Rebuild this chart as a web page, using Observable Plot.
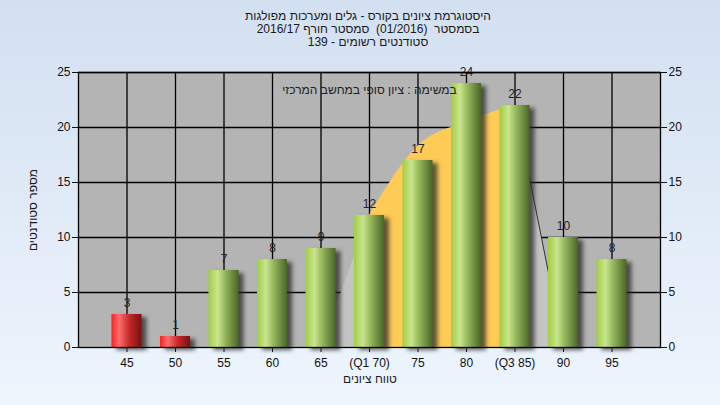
<!DOCTYPE html>
<html><head><meta charset="utf-8">
<script src="https://cdn.jsdelivr.net/npm/d3@7"></script>
<script src="https://cdn.jsdelivr.net/npm/@observablehq/plot@0.6"></script>
<style>
html,body{margin:0;padding:0;}
body{width:720px;height:405px;overflow:hidden;background:linear-gradient(#d3e0f1,#eef5fd);font-family:"Liberation Sans",Arial,sans-serif;}
#wrap{position:relative;width:720px;height:405px;}
#title{position:absolute;left:0;width:736px;top:10px;text-align:center;direction:rtl;font-size:12px;line-height:13px;color:#1a1a1a;}
#xlab{position:absolute;left:0;width:740px;top:372px;text-align:center;direction:rtl;font-size:12px;color:#1a1a1a;}
#ylab{position:absolute;left:33px;top:210px;transform:translate(-50%,-50%) rotate(-90deg);direction:rtl;font-size:12px;color:#1a1a1a;white-space:nowrap;}
.shadow{filter:blur(2px);}
svg{position:absolute;left:0;top:0;}
</style></head>
<body><div id="wrap">
<div id="title">היסטוגרמת ציונים בקורס - גלים ומערכות מפולגות<br>בסמסטר&nbsp; (01/2016)&nbsp; סמסטר חורף 2016/17<br>סטודנטים רשומים - 139</div>
<div id="xlab">טווח ציונים</div>
<div id="ylab">מספר סטודנטים</div>
</div>
<script>
const grades = [45, 50, 55, 60, 65, 70, 75, 80, 85, 90, 95];
const tickLabels = ["45", "50", "55", "60", "65", "(Q1 70)", "75", "80", "(Q3 85)", "90", "95"];
const counts = [3, 1, 7, 8, 9, 12, 17, 24, 22, 10, 8];
const failLimit = 55;
const curveGrades = [65, 70, 85, 90];
const curveValues = [0, 12, 22, 0];
const iqrGrades = [70, 75, 80, 85];
const iqrValues = [12, 18.3, 20.5, 22];
const edgeGrades = [85, 90];
const edgeValues = [22, 0];
const note = "במשימה : ציון סופי במחשב המרכזי";

const bars = grades.map((g, i) => ({g, c: counts[i]}));
const curve = curveGrades.map((g, i) => ({g, v: curveValues[i]}));
const iqr = iqrGrades.map((g, i) => ({g, v: iqrValues[i]}));
const edge = edgeGrades.map((g, i) => ({g, v: edgeValues[i]}));
const half = 1.55;

const chart = Plot.plot({
  width: 720, height: 405,
  marginLeft: 78, marginRight: 60, marginTop: 72, marginBottom: 58,
  style: {background: "transparent", fontFamily: "Liberation Sans, Arial, sans-serif", fontSize: "12px", color: "#111", overflow: "visible"},
  x: {domain: [40, 100], ticks: grades, tickFormat: v => tickLabels[grades.indexOf(v)], label: null, tickSize: 5, tickPadding: 6},
  y: {domain: [0, 25], ticks: [0, 5, 10, 15, 20, 25], axis: "both", label: null, tickSize: 6, tickPadding: 2},
  marks: [
    Plot.frame({fill: "#b4b4b4"}),
    Plot.ruleY([5, 10, 15, 20, 25], {stroke: "#000", strokeWidth: 1.3}),
    Plot.ruleX(grades, {stroke: "#000", strokeWidth: 1.3}),
    Plot.areaY(curve, {x: "g", y: "v", fill: "#c3c3c3"}),
    Plot.areaY(iqr, {x: "g", y: "v", fill: "#ffcb57", curve: "monotone-x"}),
    Plot.line(edge, {x: "g", y: "v", stroke: "#333", strokeWidth: 1}),
    Plot.rect(bars, {x1: d => d.g - half, x2: d => d.g + half, y1: 0, y2: "c", fill: "#2a2a2a", fillOpacity: 0.75, dx: 5, dy: 3, className: "shadow"}),
    Plot.rect(bars, {x1: d => d.g - half, x2: d => d.g + half, y1: 0, y2: "c", fill: d => d.g < failLimit ? "url(#gRed)" : "url(#gGreen)"}),
    Plot.text(bars, {x: "g", y: "c", text: d => String(d.c), dy: -11, fill: "#222", fontSize: 12}),
    Plot.text([note], {frameAnchor: "top", dy: 13, fill: "#222", fontSize: 12}),
    Plot.frame({stroke: "#000", strokeWidth: 1.3})
  ]
});
const ns = "http://www.w3.org/2000/svg";
const defs = document.createElementNS(ns, "defs");
defs.innerHTML = `
<linearGradient id="gGreen" x1="0" x2="1" y1="0" y2="0">
<stop offset="0" stop-color="#a0cd44"/><stop offset="0.3" stop-color="#c9e58e"/>
<stop offset="0.55" stop-color="#96b75c"/><stop offset="1" stop-color="#4b6626"/></linearGradient>
<linearGradient id="gRed" x1="0" x2="1" y1="0" y2="0">
<stop offset="0" stop-color="#ff1e1e"/><stop offset="0.25" stop-color="#ff6e6e"/>
<stop offset="0.6" stop-color="#c42828"/><stop offset="1" stop-color="#7a1010"/></linearGradient>`;
chart.insertBefore(defs, chart.firstChild);
document.getElementById("wrap").appendChild(chart);
</script>
</body></html>
